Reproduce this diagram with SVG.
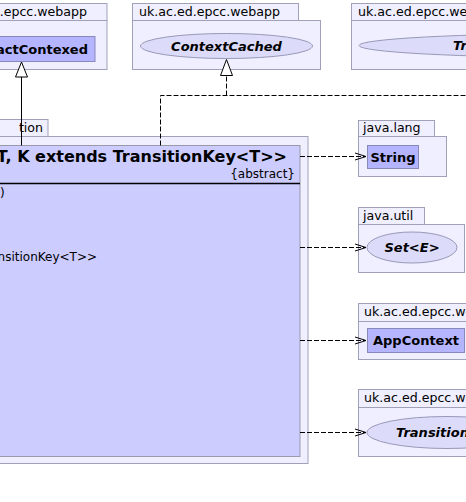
<svg xmlns="http://www.w3.org/2000/svg" width="466" height="502" viewBox="0 0 466 502">
<style>
.pkg{fill:#EFEFFF;stroke:#A0A0B8;stroke-width:1}
.cls{fill:#B4B4FF;stroke:#8888BB;stroke-width:1}
.main{fill:#CCCCFF;stroke:#9999AA;stroke-width:1}
.ell{fill:#DCDCFA;stroke:#9898B8;stroke-width:1}
.tab{font-family:"DejaVu Sans",sans-serif;font-size:12.6px;fill:#000}
.cn{font-family:"DejaVu Sans",sans-serif;font-size:13px;font-weight:bold;fill:#000}
.in{font-family:"DejaVu Sans",sans-serif;font-size:13px;font-weight:bold;font-style:italic;fill:#000}
.txt{font-family:"DejaVu Sans",sans-serif;font-size:12px;fill:#000}
.dash{fill:none;stroke:#000;stroke-width:1;stroke-dasharray:5,2}
.solid{fill:none;stroke:#000;stroke-width:1}
.tri{fill:#fff;stroke:#000;stroke-width:1}
.open{fill:none;stroke:#000;stroke-width:1}
</style>
<rect width="466" height="502" fill="#fff"/>
<g id="pkg-abstractcontexed">
<rect class="pkg" x="-20" y="3.5" width="127" height="17"/>
<rect class="pkg" x="-20" y="20.5" width="127" height="49"/>
<text class="tab" x="87" y="16" text-anchor="end">.epcc.webapp</text>
<rect class="cls" x="-20" y="36.5" width="115" height="25"/>
<text class="cn" x="88" y="54" text-anchor="end">actContexed</text>
</g>
<g id="pkg-contextcached">
<rect class="pkg" x="132.5" y="3.5" width="166" height="17"/>
<rect class="pkg" x="132.5" y="20.5" width="188" height="49"/>
<text class="tab" x="139" y="16">uk.ac.ed.epcc.webapp</text>
<ellipse class="ell" cx="226.5" cy="46" rx="86" ry="12.5"/>
<text class="in" x="226.5" y="50.5" text-anchor="middle">ContextCached</text>
</g>
<g id="pkg-topright">
<rect class="pkg" x="351.5" y="3.5" width="160" height="17"/>
<rect class="pkg" x="351.5" y="20.5" width="160" height="49"/>
<text class="tab" x="358" y="16">uk.ac.ed.epcc.webapp</text>
<ellipse class="ell" cx="585" cy="45.5" rx="226" ry="12"/>
<text class="in" x="453" y="50">Tr</text>
</g>
<g id="pkg-main">
<rect class="pkg" x="-20" y="119.5" width="68" height="17"/>
<rect class="pkg" x="-20" y="136.5" width="328" height="327"/>
<text class="tab" x="43" y="132" text-anchor="end">tion</text>
<rect class="main" x="-20" y="145.5" width="320" height="311"/>
<text x="287" y="162" text-anchor="end" style="font-family:'DejaVu Sans',sans-serif;font-size:16px;font-weight:bold">T, K extends TransitionKey&lt;T&gt;&gt;</text>
<text class="txt" x="295" y="178" text-anchor="end">{abstract}</text>
<line x1="-20" y1="183.5" x2="300" y2="183.5" stroke="#000" stroke-width="1.5"/>
<text class="txt" x="0" y="197">)</text>
<text class="txt" x="97" y="261" text-anchor="end">nsitionKey&lt;T&gt;&gt;</text>
</g>
<g id="pkg-java-lang">
<rect class="pkg" x="358.5" y="120.5" width="76" height="16"/>
<rect class="pkg" x="358.5" y="136.5" width="88" height="40"/>
<text class="tab" x="363" y="132">java.lang</text>
<rect class="cls" x="367.5" y="145.5" width="51" height="23"/>
<text class="cn" x="393" y="161.5" text-anchor="middle">String</text>
</g>
<g id="pkg-java-util">
<rect class="pkg" x="358.5" y="207.5" width="66" height="17"/>
<rect class="pkg" x="358.5" y="224.5" width="106" height="48"/>
<text class="tab" x="363" y="220">java.util</text>
<ellipse class="ell" cx="412" cy="247.5" rx="45" ry="15.5"/>
<text class="in" x="412" y="252" text-anchor="middle">Set&lt;E&gt;</text>
</g>
<g id="pkg-appcontext">
<rect class="pkg" x="358.5" y="303.5" width="150" height="18"/>
<rect class="pkg" x="358.5" y="321.5" width="150" height="38"/>
<text class="tab" x="364" y="316">uk.ac.ed.epcc.webapp</text>
<rect class="cls" x="367.5" y="328.5" width="97" height="24"/>
<text class="cn" x="416" y="345" text-anchor="middle">AppContext</text>
</g>
<g id="pkg-transition">
<rect class="pkg" x="358.5" y="389.5" width="150" height="18"/>
<rect class="pkg" x="358.5" y="407.5" width="150" height="49"/>
<text class="tab" x="364" y="402">uk.ac.ed.epcc.webapp</text>
<ellipse class="ell" cx="447" cy="432.5" rx="80" ry="16"/>
<text class="in" x="396" y="437">Transition</text>
</g>
<g id="connectors">
<line class="solid" x1="21.5" y1="145.5" x2="21.5" y2="77"/>
<polygon class="tri" points="21.5,62 15.5,77 27.5,77"/>
<polyline class="dash" points="160.5,145.5 160.5,95.5 470,95.5"/>
<line class="dash" x1="226.5" y1="95.5" x2="226.5" y2="76"/>
<polygon class="tri" points="226.5,59.5 220.5,75.5 232.5,75.5"/>
<line class="dash" x1="300" y1="156.5" x2="366" y2="156.5"/>
<polyline class="open" points="355,153 366,156.5 355,160"/>
<line class="dash" x1="300" y1="247.5" x2="366" y2="247.5"/>
<polyline class="open" points="355,244 366,247.5 355,251"/>
<line class="dash" x1="300" y1="340.5" x2="366" y2="340.5"/>
<polyline class="open" points="355,337 366,340.5 355,344"/>
<line class="dash" x1="300" y1="432.5" x2="366" y2="432.5"/>
<polyline class="open" points="355,429 366,432.5 355,436"/>
</g>
</svg>
